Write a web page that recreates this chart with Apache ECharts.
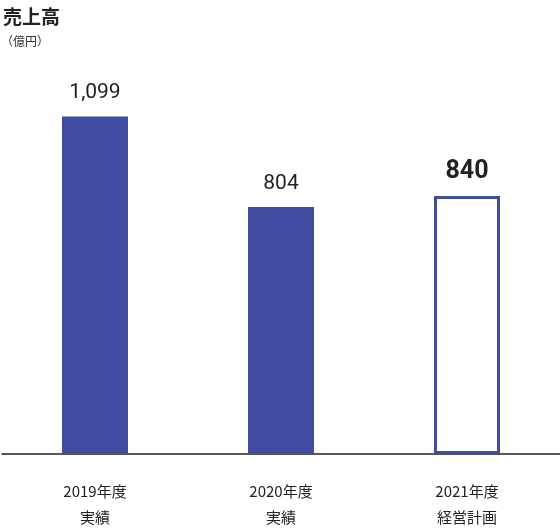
<!DOCTYPE html>
<html><head><meta charset="utf-8">
<script src="https://cdn.jsdelivr.net/npm/echarts@6/dist/echarts.min.js"></script>
<style>html,body{margin:0;padding:0;background:#fff}#c{width:560px;height:530px}</style>
</head><body><div id="c"></div>
<script>
const categories = ['2019年度\n実績', '2020年度\n実績', '2021年度\n経営計画'];
const values = [1099, 804, 840];
const labels = ['1,099', '804', '840'];
const blue = '#3F4C9F';
const chart = echarts.init(document.getElementById('c'));
chart.setOption({
  animation: false,
  title: [
    {text: '売上高', left: -2, top: 2, textStyle: {fontSize: 19, fontWeight: 'bold', color: '#222', fontFamily: 'Noto Sans CJK JP'}},
    {text: '（億円）', left: -4, top: 30, textStyle: {fontSize: 12, fontWeight: 'normal', color: '#333', fontFamily: 'Noto Sans CJK JP'}}
  ],
  grid: {left: 2, right: 0, top: 24, bottom: 73},
  xAxis: {type: 'category', data: categories,
    axisLine: {lineStyle: {color: '#222', width: 1.5}}, axisTick: {show: false},
    axisLabel: {fontSize: 15, color: '#222', lineHeight: 26, margin: 24, fontFamily: 'Noto Sans CJK JP'}},
  yAxis: {type: 'value', min: 0, max: 1400, show: false, splitLine: {show: false}},
  series: [{
    type: 'bar', barWidth: 66,
    data: values.map((v, i) => i === 2 ? {
      value: v,
      itemStyle: {color: '#fff', borderColor: blue, borderWidth: 3},
      label: {fontSize: 25, fontWeight: 'bold', color: '#222', distance: 12}
    } : {value: v}),
    itemStyle: {color: blue},
    label: {show: true, position: 'top', distance: 13, fontSize: 21, color: '#222',
      fontFamily: 'Roboto', formatter: p => labels[p.dataIndex]}
  }]
});
</script></body></html>
